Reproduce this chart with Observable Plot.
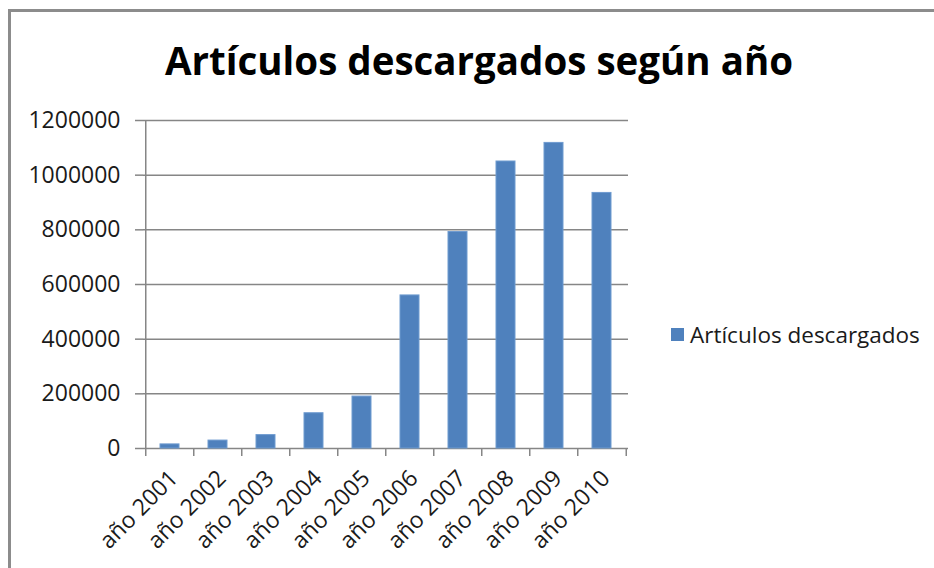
<!DOCTYPE html>
<html><head><meta charset="utf-8">
<script src="https://cdn.jsdelivr.net/npm/d3@7"></script>
<script src="https://cdn.jsdelivr.net/npm/@observablehq/plot@0.6"></script>
<style>
body{margin:0;background:#fff;}
#wrap{position:relative;width:934px;height:568px;overflow:hidden;font-family:"Open Sans",sans-serif;background:#fff;}
#frame{position:absolute;left:8px;top:9px;right:-10px;bottom:-10px;border-left:3px solid #8c8c8c;border-top:3px solid #8c8c8c;}
#title{position:absolute;left:0;width:958px;top:41px;line-height:38px;text-align:center;font-weight:700;font-size:38.5px;color:#000;white-space:nowrap;}
#chart{position:absolute;left:0;top:0;}
#legend{position:absolute;left:671px;top:323px;height:22px;display:flex;align-items:center;font-size:22.5px;color:#1a1a1a;white-space:nowrap;}
#legend .sw{width:13px;height:13px;background:#4f81bd;margin-right:6px;}
</style></head>
<body>
<div id="wrap">
  <div id="frame"></div>
  <div id="chart"></div>
  <div id="title">Artículos descargados según año</div>
  <div id="legend"><span class="sw"></span><span id="legtext"></span></div>
</div>
<script>
const years = ["año 2001","año 2002","año 2003","año 2004","año 2005","año 2006","año 2007","año 2008","año 2009","año 2010"];
const values = [15000, 29000, 49000, 129000, 190000, 560000, 792000, 1050000, 1118000, 935000];
const yTicks = [0, 200000, 400000, 600000, 800000, 1000000, 1200000];
const seriesName = "Artículos descargados";

document.getElementById("legtext").textContent = seriesName;

const data = years.map((year, i) => ({year, value: values[i]}));
const W = 640, H = 568, ML = 143, MR = W - 628, MT = 120, MB = H - 448;
const step = (W - ML - MR) / years.length;
const grid = "#868686";

const chart = Plot.plot({
  width: W, height: H,
  marginLeft: ML, marginRight: MR, marginTop: MT, marginBottom: MB,
  style: {fontFamily: "Open Sans", fontSize: "22px", color: "#1a1a1a", background: "transparent", overflow: "visible"},
  x: {domain: years, paddingInner: 0.6, paddingOuter: 0.3, axis: null},
  y: {domain: [0, 1200000], axis: null},
  marks: [
    Plot.ruleY(yTicks, {stroke: grid, strokeWidth: 1.5}),
    Plot.ruleX([years[0]], {x: d => d, dx: -step / 2, stroke: grid, strokeWidth: 1.5}),
    Plot.barY(data, {x: "year", y: "value", fill: "#4f81bd", stroke: "#6f9bd0", strokeWidth: 1}),
    Plot.axisY(yTicks, {label: null, tickSize: 8, tickPadding: 15, tickFormat: d => String(d), stroke: grid, strokeWidth: 1.5, fontSize: 23, fill: "#1a1a1a"}),
    Plot.axisX(years, {label: null, tickSize: 8, dx: -step / 2, tickFormat: () => "", stroke: grid, strokeWidth: 1.5}),
    Plot.axisX([years[years.length - 1]], {label: null, tickSize: 8, dx: step / 2, tickFormat: () => "", stroke: grid, strokeWidth: 1.5}),
    Plot.axisX(years, {label: null, tickSize: 0, tickRotate: -45, tickPadding: 26, dx: 4, fontSize: 23, fill: "#1a1a1a"})
  ]
});
document.getElementById("chart").appendChild(chart);
</script>
</body></html>
